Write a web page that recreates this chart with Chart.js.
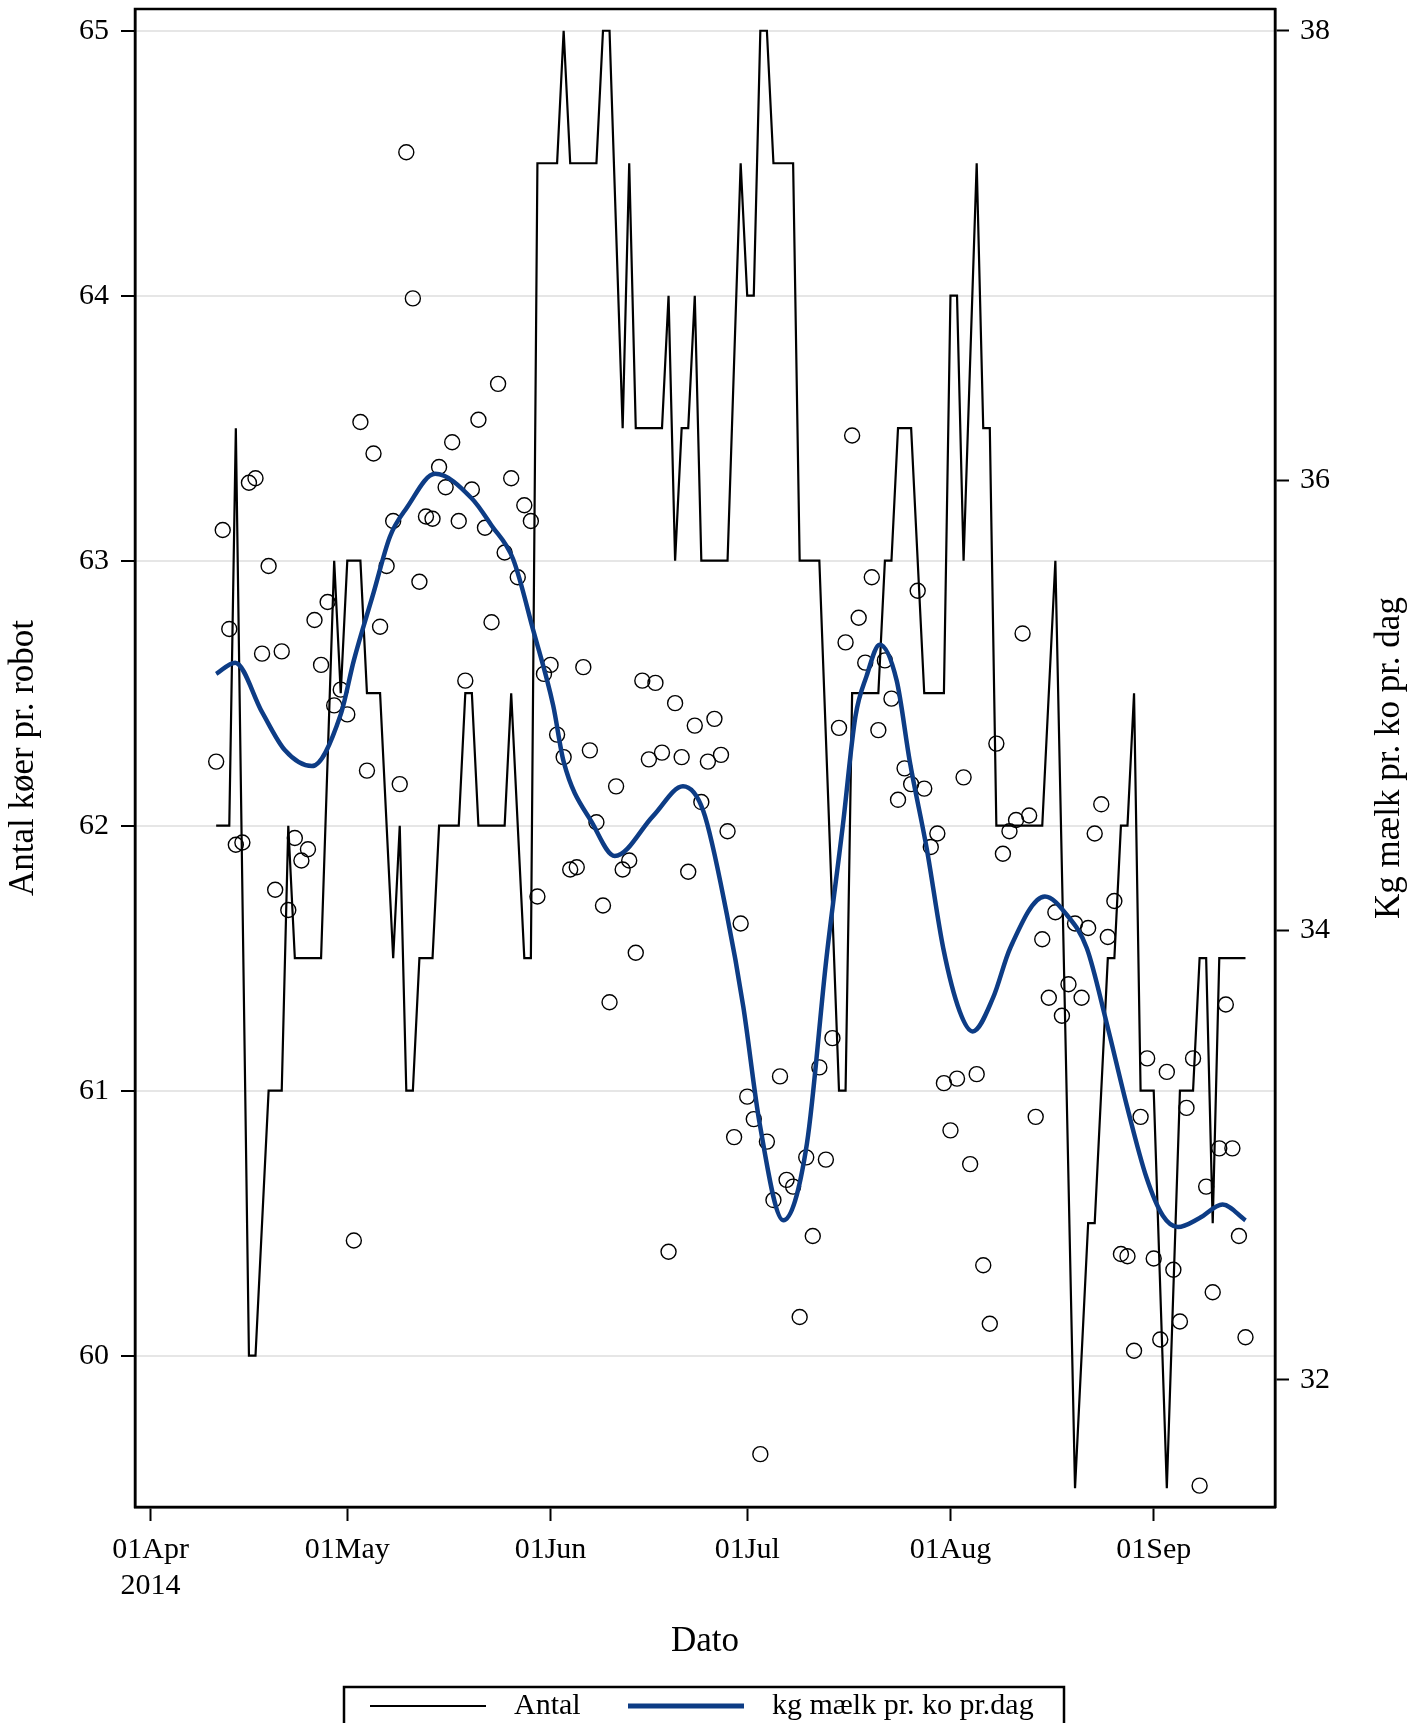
<!DOCTYPE html>
<html>
<head>
<meta charset="utf-8">
<title>Antal køer pr. robot og kg mælk pr. ko</title>
<script src="https://cdn.jsdelivr.net/npm/chart.js@4/dist/chart.umd.min.js"></script>
<style>
  html, body { margin: 0; padding: 0; background: #fff; }
  #wrap { width: 1423px; height: 1723px; position: relative; }
</style>
</head>
<body>
<div id="wrap"><canvas id="myChart"></canvas></div>
<script>
'use strict';

// days are counted from 01Apr2014 (day 0)
let monthDays = [0, 30, 61, 91, 122, 153];
let monthLabels = [['01Apr', '2014'], '01May', '01Jun', '01Jul', '01Aug', '01Sep'];
let leftTicks = [60, 61, 62, 63, 64, 65];
let rightTicks = [32, 34, 36, 38];

// Antal koer pr. robot (corners of the black line)
let antalDays = [10, 12, 13, 15, 16, 18, 20, 21, 22, 26, 28, 29, 30, 32, 33, 35, 37, 38, 39, 40,
  41, 43, 44, 47, 48, 49, 50, 54, 55, 57, 58, 59, 62, 63, 64, 68, 69, 70, 72, 73,
  74, 78, 79, 80, 81, 82, 83, 84, 88, 90, 91, 92, 93, 94, 95, 98, 99, 102, 105, 106,
  107, 111, 112, 113, 114, 116, 118, 121, 122, 123, 124, 126, 127, 128, 129, 136, 138, 141, 143, 144,
  146, 147, 148, 149, 150, 151, 153, 155, 157, 159, 160, 161, 162, 163, 167];
let antalValues = [62, 62, 63.5, 60, 60, 61, 61, 62, 61.5, 61.5, 63, 62.5, 63, 63, 62.5, 62.5, 61.5, 62, 61, 61,
  61.5, 61.5, 62, 62, 62.5, 62.5, 62, 62, 62.5, 61.5, 61.5, 64.5, 64.5, 65, 64.5, 64.5, 65, 65, 63.5, 64.5,
  63.5, 63.5, 64, 63, 63.5, 63.5, 64, 63, 63, 64.5, 64, 64, 65, 65, 64.5, 64.5, 63, 63, 61, 61,
  62.5, 62.5, 63, 63, 63.5, 63.5, 62.5, 62.5, 64, 64, 63, 64.5, 63.5, 63.5, 62, 62, 63, 59.5, 60.5, 60.5,
  61.5, 61.5, 62, 62, 62.5, 61, 61, 59.5, 61, 61, 61.5, 61.5, 60.5, 61.5, 61.5];

// kg maelk pr. ko pr. dag, one value a day from 11Apr (day 10)
let milkFirstDay = 10;
let milkValues = [
  34.75, 35.78, 35.34, 34.38, 34.39, 35.99, 36.01, 35.23, 35.62, 34.18,
  35.24, 34.09, 34.41, 34.31, 34.36, 35.38, 35.18, 35.46, 35.00, 35.07,
  34.96, 32.62, 36.26, 34.71, 36.12, 35.35, 35.62, 35.82, 34.65, 37.46,
  36.81, 35.55, 35.84, 35.83, 36.06, 35.97, 36.17, 35.82, 35.11, 35.96,
  36.27, 35.79, 35.37, 36.43, 35.68, 36.01, 35.57, 35.89, 35.82, 34.15,
  35.14, 35.18, 34.87, 34.77, 34.27, 34.28, 35.17, 34.80, 34.48, 34.11,
  33.68, 34.64, 34.27, 34.31, 33.90, 35.11, 34.76, 35.10, 34.79, 32.57,
  35.01, 34.77, 34.26, 34.91, 34.57, 34.75, 34.94, 34.78, 34.44, 33.08,
  34.03, 33.26, 33.16, 31.67, 33.06, 32.80, 33.35, 32.89, 32.86, 32.28,
  32.99, 32.64, 33.39, 32.98, 33.52, 34.90, 35.28, 36.20, 35.39, 35.19,
  35.57, 34.89, 35.20, 35.03, 34.58, 34.72, 34.65, 35.51, 34.63, 34.37,
  34.43, 33.32, 33.11, 33.34, 34.68, 32.96, 33.36, 32.51, 32.25, 34.83,
  34.34, 34.44, 34.49, 35.32, 34.51, 33.17, 33.96, 33.70, 34.08, 33.62,
  33.76, 34.03, 33.70, 34.01, 34.43, 34.56, 33.97, 34.13, 32.56, 32.55,
  32.13, 33.17, 33.43, 32.54, 32.18, 33.37, 32.49, 32.26, 33.21, 33.43,
  31.53, 32.86, 32.39, 33.03, 33.67, 33.03, 32.64, 32.19];

// smoothed curve
let trendDays = [10, 12.9, 17, 20.5, 24.6, 29, 31, 34, 36.5, 39.1, 43.4, 49, 52, 55.3, 58.4, 61.4,
  63, 67.5, 70.8, 76.7, 81.2, 84.3, 87.9, 90.4, 92.9, 96.5, 100.1, 103.1, 105.6, 107.5, 109.2,
  111.2, 113.8, 115.8, 118.4, 120.9, 123.4, 125.4, 128.5, 131.1, 136.4, 139.7, 142.8, 145.8, 148.9, 151.9,
  154.4, 156.7, 160, 163.5, 167];
let trendValues = [35.14, 35.19, 34.97, 34.80, 34.73, 34.96, 35.20, 35.50, 35.75, 35.88, 36.03, 35.92, 35.80, 35.65, 35.33, 35.0,
  34.75, 34.47, 34.33, 34.51, 34.64, 34.53, 34.07, 33.66, 33.14, 32.71, 33.05, 33.88, 34.47, 34.95, 35.13,
  35.27, 35.11, 34.75, 34.36, 33.92, 33.64, 33.55, 33.70, 33.92, 34.15, 34.07, 33.92, 33.59, 33.22, 32.90,
  32.73, 32.68, 32.72, 32.78, 32.71];

let serif = '"Liberation Serif", "Times New Roman", serif';
let navy = '#0d3c85';

function toPoints(xs, ys) {
  let points = [];
  for (let i = 0; i < xs.length; i++) {
    points.push({ x: xs[i], y: ys[i] });
  }
  return points;
}

let milkPoints = [];
for (let i = 0; i < milkValues.length; i++) {
  milkPoints.push({ x: milkFirstDay + i, y: milkValues[i] });
}

// keep the plot box fixed: no extra room for half labels at the ends
function fixWidth(w) {
  return function (scale) {
    scale.width = w;
    scale.paddingTop = 0;
    scale.paddingBottom = 0;
  };
}

// frame, right axis title and the boxed legend underneath
const extrasPlugin = {
  id: 'extras',
  afterDraw(chart) {
    let ctx = chart.ctx;
    let area = chart.chartArea;
    ctx.save();
    ctx.strokeStyle = '#000';
    ctx.lineWidth = 2.5;
    ctx.strokeRect(area.left, area.top, area.right - area.left, area.bottom - area.top);

    ctx.fillStyle = '#000';
    ctx.font = '35px ' + serif;
    ctx.textAlign = 'center';
    ctx.textBaseline = 'middle';
    ctx.save();
    ctx.translate(1390, (area.top + area.bottom) / 2);
    ctx.rotate(-Math.PI / 2);
    ctx.fillText('Kg mælk pr. ko pr. dag', 0, 0);
    ctx.restore();

    // legend
    let legendY = 1706;
    ctx.lineWidth = 2.5;
    ctx.strokeRect(344, 1687, 720, 60);
    ctx.lineWidth = 2;
    ctx.beginPath();
    ctx.moveTo(370, legendY);
    ctx.lineTo(486, legendY);
    ctx.stroke();
    ctx.strokeStyle = navy;
    ctx.lineWidth = 5;
    ctx.beginPath();
    ctx.moveTo(628, legendY);
    ctx.lineTo(744, legendY);
    ctx.stroke();
    ctx.font = '30px ' + serif;
    ctx.textAlign = 'left';
    ctx.fillText('Antal', 514, legendY);
    ctx.fillText('kg mælk pr. ko pr.dag', 772, legendY);
    ctx.restore();
  }
};

const data = {
  datasets: [{
    type: 'line',
    label: 'kg mælk pr. ko pr.dag',
    data: toPoints(trendDays, trendValues),
    yAxisID: 'y1',
    borderColor: navy,
    borderWidth: 4.5,
    pointRadius: 0,
    cubicInterpolationMode: 'monotone',
    order: 1
  }, {
    type: 'scatter',
    label: 'kg mælk',
    data: milkPoints,
    yAxisID: 'y1',
    pointRadius: 7.5,
    borderColor: '#000',
    backgroundColor: 'rgba(0,0,0,0)',
    borderWidth: 1.4,
    order: 2
  }, {
    type: 'line',
    label: 'Antal',
    data: toPoints(antalDays, antalValues),
    yAxisID: 'y',
    borderColor: '#000',
    borderWidth: 2.2,
    pointRadius: 0,
    tension: 0,
    order: 3
  }]
};

const tickFont = { family: serif, size: 30 };
const titleFont = { family: serif, size: 35 };

const config = {
  type: 'line',
  data: data,
  options: {
    responsive: true,
    maintainAspectRatio: false,
    animation: false,
    layout: { padding: { top: 9, left: 0, right: 0, bottom: 0 } },
    plugins: {
      legend: { display: false },
      tooltip: { enabled: false }
    },
    scales: {
      x: {
        type: 'linear',
        min: -2.38,
        max: 171.5,
        afterBuildTicks: (scale) => { scale.ticks = monthDays.map(v => ({ value: v })); },
        afterFit: (scale) => { scale.height = 216; },
        grid: { drawOnChartArea: false, tickColor: '#000', tickLength: 14, tickWidth: 2 },
        border: { color: '#000', width: 2.5 },
        ticks: {
          autoSkip: false,
          maxRotation: 0,
          font: tickFont,
          color: '#000',
          padding: 11,
          callback: (value) => monthLabels[monthDays.indexOf(value)]
        },
        title: { display: true, text: 'Dato', font: titleFont, color: '#000', padding: { bottom: 60 } }
      },
      y: {
        position: 'left',
        min: 59.429,
        max: 65.082,
        afterBuildTicks: (scale) => { scale.ticks = leftTicks.map(v => ({ value: v })); },
        afterFit: fixWidth(135),
        grid: { color: '#e6e6e6', lineWidth: 2, tickColor: '#000', tickLength: 14, tickWidth: 2 },
        border: { color: '#000', width: 2.5 },
        ticks: { font: tickFont, color: '#000', padding: 12 },
        title: { display: true, text: 'Antal køer pr. robot', font: titleFont, color: '#000', padding: { top: 3 } }
      },
      y1: {
        position: 'right',
        min: 31.435,
        max: 38.097,
        afterBuildTicks: (scale) => { scale.ticks = rightTicks.map(v => ({ value: v })); },
        afterFit: fixWidth(148),
        grid: { drawOnChartArea: false, tickColor: '#000', tickLength: 14, tickWidth: 2 },
        border: { color: '#000', width: 2.5 },
        ticks: { font: tickFont, color: '#000', padding: 11 }
      }
    }
  },
  plugins: [extrasPlugin]
};

const myChart = new Chart(document.getElementById('myChart'), config);
</script>
</body>
</html>
